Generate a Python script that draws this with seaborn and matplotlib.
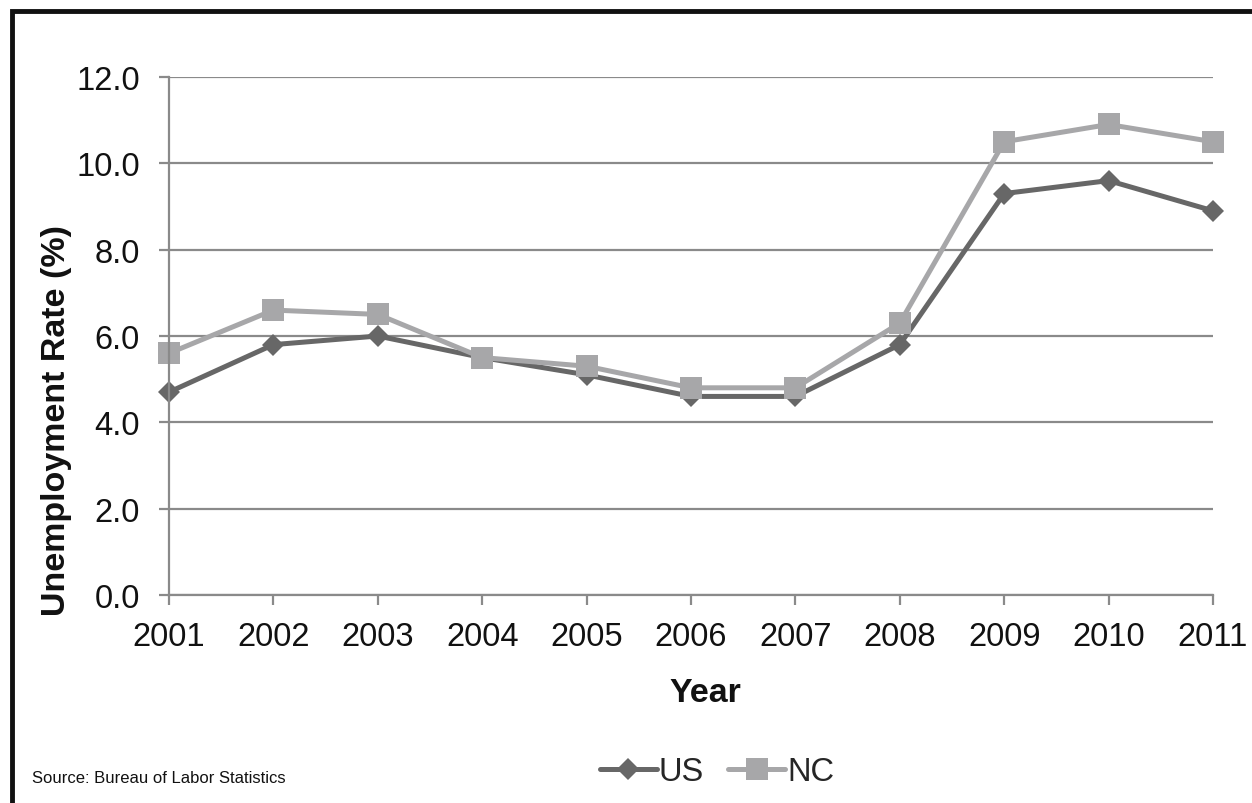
import matplotlib
matplotlib.use("Agg")
import matplotlib.pyplot as plt
from matplotlib.lines import Line2D
import pandas as pd
import seaborn as sns

# Annual unemployment rate (%)
years = [2001, 2002, 2003, 2004, 2005, 2006, 2007, 2008, 2009, 2010, 2011]
us_rate = [4.7, 5.8, 6.0, 5.5, 5.1, 4.6, 4.6, 5.8, 9.3, 9.6, 8.9]
nc_rate = [5.6, 6.6, 6.5, 5.5, 5.3, 4.8, 4.8, 6.3, 10.5, 10.9, 10.5]
series_names = ["US", "NC"]
y_ticks = [0, 2, 4, 6, 8, 10, 12]

df = pd.concat([
    pd.DataFrame({"Year": years, "Rate": us_rate, "Series": "US"}),
    pd.DataFrame({"Year": years, "Rate": nc_rate, "Series": "NC"}),
], ignore_index=True)

sns.set_theme(style="white")
plt.rcParams["font.family"] = ["Liberation Sans", "DejaVu Sans"]

W, H, DPI = 1252, 804, 100
fig = plt.figure(figsize=(W / DPI, H / DPI), dpi=DPI)
ax = fig.add_axes([169 / W, 1 - 596 / H, (1213 - 169) / W, (596 - 78) / H])

grid_col = "#8a8a8a"
palette = {"US": "#676767", "NC": "#a7a7a9"}
markers = {"US": "D", "NC": "s"}
fs_tick = 23.5
fs_label = 24.5

# horizontal gridlines under the data
for t in y_ticks:
    ax.axhline(t, color=grid_col, lw=1.6, zorder=0)

sns.lineplot(data=df, x="Year", y="Rate", hue="Series", style="Series",
             hue_order=series_names, style_order=series_names,
             palette=palette, markers=markers, dashes=False,
             linewidth=3.6, markeredgewidth=0, ax=ax, legend=False)

for ln in ax.lines[len(y_ticks):]:
    ln.set_clip_on(False)
    if ln.get_marker() == "D":
        ln.set_markersize(11.5)
    else:
        ln.set_markersize(16)

ax.set_xlim(2001, 2011)
ax.set_ylim(0, 12)
ax.set_xticks(years)
ax.set_xticklabels([str(y) for y in years])
ax.set_yticks(y_ticks)
ax.set_yticklabels([f"{t:.1f}" for t in y_ticks])

for side in ["top", "right"]:
    ax.spines[side].set_visible(False)
for side in ["left", "bottom"]:
    ax.spines[side].set_color(grid_col)
    ax.spines[side].set_linewidth(1.6)

ax.tick_params(axis="x", which="major", direction="out", length=7, width=1.6,
               color=grid_col, labelsize=fs_tick, pad=12, bottom=True)
ax.tick_params(axis="y", which="major", direction="out", length=7, width=1.6,
               color=grid_col, labelsize=fs_tick, pad=14, left=True)
for lab in ax.get_xticklabels() + ax.get_yticklabels():
    lab.set_color("#111111")

ax.set_xlabel("Year", fontsize=fs_label, fontweight="bold", color="#111111")
ax.set_ylabel("Unemployment Rate (%)", fontsize=fs_label, fontweight="bold",
              color="#111111")
ax.xaxis.set_label_coords(0.514, -0.158)
ax.yaxis.set_label_coords(-0.093, 0.338)

# legend below the plot
handles = [
    Line2D([], [], color=palette["US"], marker="D", markersize=11.5, lw=3.6,
           markeredgewidth=0),
    Line2D([], [], color=palette["NC"], marker="s", markersize=16, lw=3.6,
           markeredgewidth=0),
]
fig.legend(handles, series_names, loc="center", bbox_to_anchor=(717 / W, 1 - 773 / H),
           ncol=2, frameon=False, fontsize=fs_tick, handlelength=1.75,
           handletextpad=0.05, columnspacing=0.75, borderpad=0)

fig.text(32 / W, 1 - 783 / H, "Source: Bureau of Labor Statistics",
         fontsize=12, family=["Liberation Sans Narrow", "Liberation Sans"],
         color="#111111", ha="left", va="baseline")

# frame along the left and top edges
fig.add_artist(Line2D([12 / W, 12 / W, 1.0], [0.0, 1 - 12 / H, 1 - 12 / H],
                      transform=fig.transFigure, color="#111111", lw=3.5,
                      solid_joinstyle="miter"))

fig.savefig("out.png", dpi=DPI, facecolor="white")
